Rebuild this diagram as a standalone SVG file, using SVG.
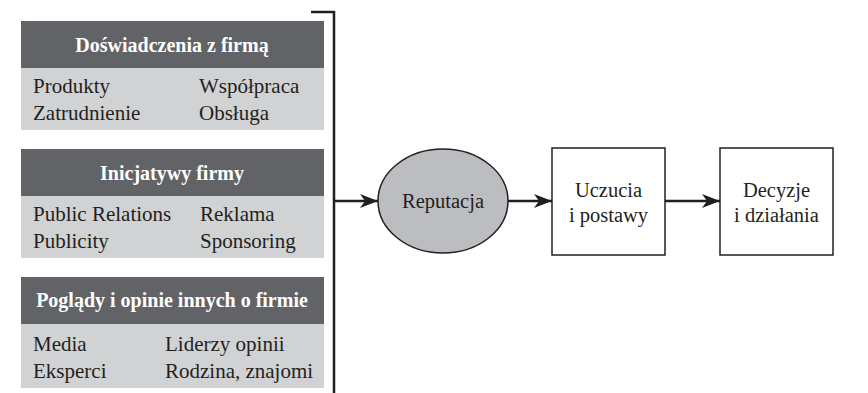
<svg xmlns="http://www.w3.org/2000/svg" width="868" height="393" viewBox="0 0 868 393">
<defs>
<style>
.hd{fill:#626366}
.lt{fill:#d1d2d4}
.ht{font-family:"Liberation Serif",serif;font-size:20px;font-weight:bold;fill:#ffffff;text-anchor:middle}
.bt{font-family:"Liberation Serif",serif;font-size:21px;fill:#231f20}
.nt{font-family:"Liberation Serif",serif;font-size:20.5px;fill:#231f20;text-anchor:middle}
.ln{stroke:#231f20;stroke-width:2.5;fill:none}
.box{fill:#ffffff;stroke:#231f20;stroke-width:1.5}
</style>
<marker id="ah" markerWidth="18" markerHeight="14" refX="18" refY="7" orient="auto" markerUnits="userSpaceOnUse">
<path d="M0,0 L18,7 L0,14 L5,7 Z" fill="#231f20"/>
</marker>
</defs>
<rect width="868" height="393" fill="#ffffff"/>
<g id="panel-doswiadczenia">
<rect class="hd" x="21" y="21" width="303" height="47"/>
<rect class="lt" x="21" y="68" width="303" height="62"/>
<text class="ht" x="172" y="52">Doświadczenia z firmą</text>
<text class="bt" x="33" y="93">Produkty</text>
<text class="bt" x="199" y="93">Współpraca</text>
<text class="bt" x="33" y="120">Zatrudnienie</text>
<text class="bt" x="199" y="120">Obsługa</text>
</g>
<g id="panel-inicjatywy">
<rect class="hd" x="21" y="149" width="303" height="47"/>
<rect class="lt" x="21" y="196" width="303" height="62"/>
<text class="ht" x="172" y="180">Inicjatywy firmy</text>
<text class="bt" x="33" y="221">Public Relations</text>
<text class="bt" x="200" y="221">Reklama</text>
<text class="bt" x="33" y="248">Publicity</text>
<text class="bt" x="200" y="248">Sponsoring</text>
</g>
<g id="panel-poglady">
<rect class="hd" x="21" y="277" width="303" height="47"/>
<rect class="lt" x="21" y="324" width="303" height="64"/>
<text class="ht" x="172" y="307">Poglądy i opinie innych o firmie</text>
<text class="bt" x="33" y="351">Media</text>
<text class="bt" x="165" y="351">Liderzy opinii</text>
<text class="bt" x="33" y="378">Eksperci</text>
<text class="bt" x="165" y="378">Rodzina, znajomi</text>
</g>
<g id="bracket">
<path class="ln" d="M311,12 H334 V393"/>
</g>
<g id="reputacja">
<ellipse cx="443" cy="201" rx="65" ry="52" fill="#bcbdc0" stroke="#231f20" stroke-width="1.5"/>
<text class="nt" x="443" y="208">Reputacja</text>
</g>
<g id="uczucia">
<rect class="box" x="552" y="148" width="113" height="107"/>
<text class="nt" x="608.5" y="197">Uczucia</text>
<text class="nt" x="608.5" y="222">i postawy</text>
</g>
<g id="decyzje">
<rect class="box" x="720" y="148" width="113" height="107"/>
<text class="nt" x="776.5" y="197">Decyzje</text>
<text class="nt" x="776.5" y="222">i działania</text>
</g>
<g id="connectors">
<line class="ln" x1="334" y1="201" x2="378" y2="201" marker-end="url(#ah)"/>
<line class="ln" x1="508" y1="201" x2="552" y2="201" marker-end="url(#ah)"/>
<line class="ln" x1="665" y1="201" x2="720" y2="201" marker-end="url(#ah)"/>
</g>
</svg>
